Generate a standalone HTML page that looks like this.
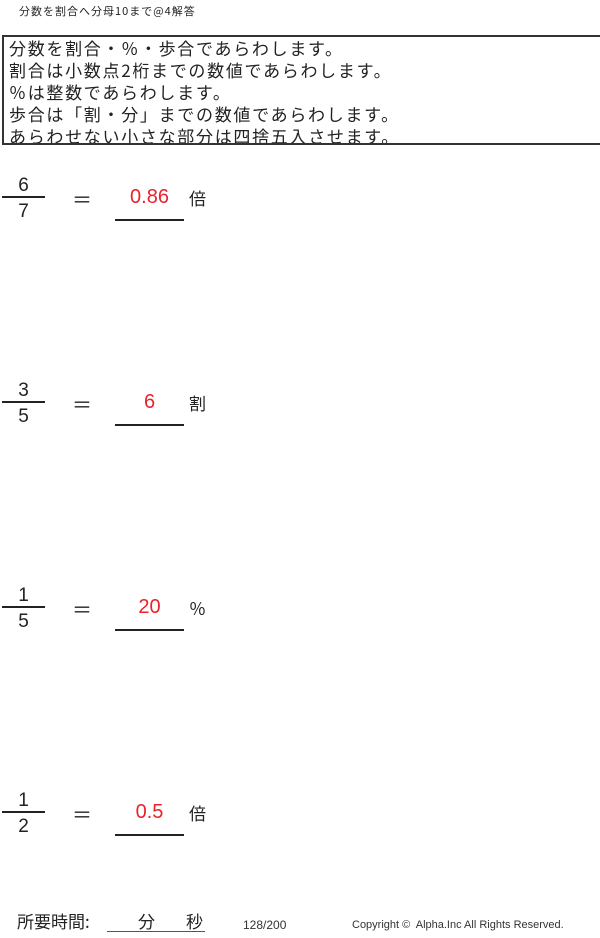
<!DOCTYPE html>
<html><head><meta charset="utf-8"><style>
body{margin:0;width:600px;height:938px;background:#fff;position:relative;font-family:"Liberation Sans","Noto Sans CJK JP",sans-serif;color:#222;overflow:hidden}
.a{position:absolute;white-space:nowrap}
.box{position:absolute;left:2px;top:35px;width:598px;height:110px;border:2px solid #333;border-right:none;font-family:"Noto Sans CJK JP",sans-serif;font-size:17px;line-height:22px;padding-left:5px;box-sizing:border-box;overflow:hidden;letter-spacing:1.7px}
.box div{height:22px;line-height:21px;white-space:nowrap}
.fl{position:absolute;left:2px;width:43px;height:1.5px;background:#222}
.ul{position:absolute;left:115px;width:69px;height:1.5px;background:#222}
.n{position:absolute;width:47px;text-align:center;font-size:19px;left:0}
.r{position:absolute;width:69px;left:115px;text-align:center;color:#e8232b;font-size:20px}
.eq{position:absolute;left:72px;font-size:20px}
.u{position:absolute;left:189px;font-size:17px;font-family:"Noto Sans CJK JP",sans-serif}
</style></head><body>
<div class="a" style="left:19px;top:3px;font-size:11px;font-family:'Noto Sans CJK JP',sans-serif;letter-spacing:1px">分数を割合へ分母10まで@4解答</div>
<div class="box"><div>分数を割合・％・歩合であらわします。</div><div>割合は小数点2桁までの数値であらわします。</div><div>％は整数であらわします。</div><div>歩合は「割・分」までの数値であらわします。</div><div>あらわせない小さな部分は四捨五入させます。</div></div>

<div class="n" style="top:175px">6</div><div class="fl" style="top:196px"></div><div class="n" style="top:201px">7</div>
<div class="eq" style="top:184px">＝</div><div class="r" style="top:186px">0.86</div><div class="ul" style="top:219px"></div><div class="u" style="top:185px">倍</div>

<div class="n" style="top:380px">3</div><div class="fl" style="top:401px"></div><div class="n" style="top:406px">5</div>
<div class="eq" style="top:389px">＝</div><div class="r" style="top:391px">6</div><div class="ul" style="top:424px"></div><div class="u" style="top:390px">割</div>

<div class="n" style="top:585px">1</div><div class="fl" style="top:606px"></div><div class="n" style="top:611px">5</div>
<div class="eq" style="top:594px">＝</div><div class="r" style="top:596px">20</div><div class="ul" style="top:629px"></div><div class="u" style="top:595px">％</div>

<div class="n" style="top:790px">1</div><div class="fl" style="top:811px"></div><div class="n" style="top:816px">2</div>
<div class="eq" style="top:799px">＝</div><div class="r" style="top:801px">0.5</div><div class="ul" style="top:834px"></div><div class="u" style="top:800px">倍</div>

<div class="a" style="left:17px;top:908px;font-size:17px;font-family:'Noto Sans CJK JP',sans-serif">所要時間:</div>
<div class="a" style="left:138px;top:908px;font-size:17px;font-family:'Noto Sans CJK JP',sans-serif">分</div>
<div class="a" style="left:186px;top:908px;font-size:17px;font-family:'Noto Sans CJK JP',sans-serif">秒</div>
<div style="position:absolute;left:107px;top:931px;width:98px;height:1px;background:#555"></div>
<div class="a" style="left:243px;top:918px;font-size:12px;color:#333">128/200</div>
<div class="a" style="left:352px;top:919px;font-size:11px;color:#333">Copyright ©&nbsp; Alpha.Inc All Rights Reserved.</div>
</body></html>
